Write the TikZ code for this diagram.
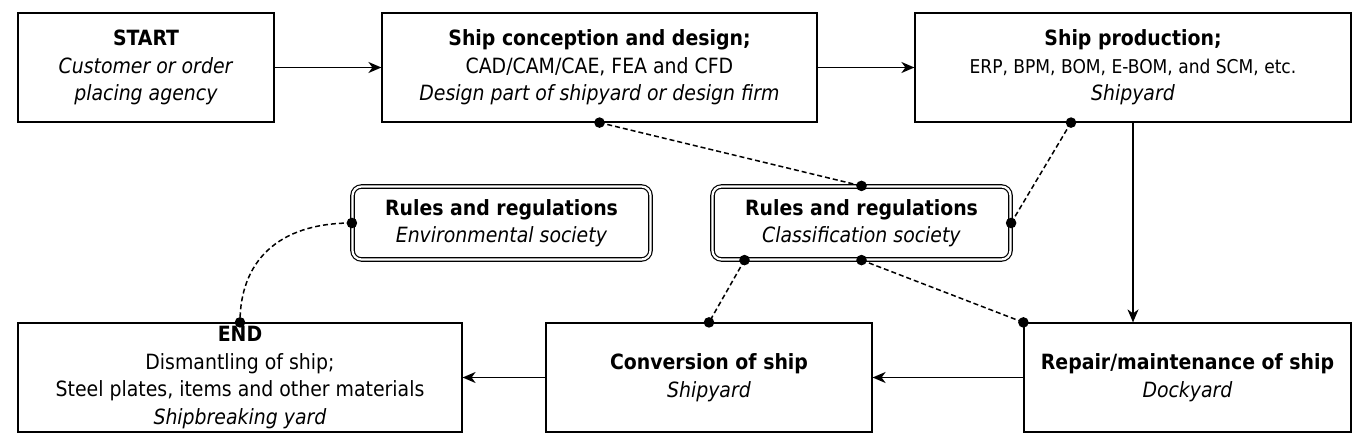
\documentclass[tikz,border=0pt]{standalone}
\usepackage{fontspec}
\setmainfont{DejaVu Sans Condensed}
\usetikzlibrary{arrows.meta,calc}
\begin{document}
\begin{tikzpicture}[x=1pt,y=-1pt,
 box/.style={draw, line width=1.2pt, inner sep=0pt, align=center, font=\fontsize{21}{27.5}\selectfont},
 rulebox/.style={box, double, double distance=2.2pt, rounded corners=9pt, minimum width=298pt, minimum height=73pt},
 flow/.style={line width=1.7pt, -{Stealth[length=13pt,width=11pt,inset=4pt]}},
 link/.style={line width=1.5pt, dash pattern=on 5pt off 3pt},
 dotstyle/.style={fill=black}]
\useasboundingbox (0,0) rectangle (1364,443);

\node[box, minimum width=256pt, minimum height=109pt] (start) at (146,67.5)
  {\textbf{START}\\\textit{Customer or order}\\\textit{placing agency}};
\node[box, minimum width=435pt, minimum height=109pt] (design) at (599.5,67.5)
  {\textbf{Ship conception and design;}\\CAD/CAM/CAE, FEA and CFD\\\textit{Design part of shipyard or design firm}};
\node[box, minimum width=436pt, minimum height=109pt] (prod) at (1133,67.5)
  {\textbf{Ship production;}\\{\fontsize{19}{27.5}\selectfont ERP, BPM, BOM, E-BOM, and SCM, etc.}\\\textit{Shipyard}};
\node[rulebox] (env) at (501.5,223)
  {\textbf{Rules and regulations}\\\textit{Environmental society}};
\node[rulebox] (class) at (861.5,223)
  {\textbf{Rules and regulations}\\\textit{Classification society}};
\node[box, minimum width=444pt, minimum height=109pt] (end) at (240,377.5)
  {\textbf{END}\\Dismantling of ship;\\Steel plates, items and other materials\\\textit{Shipbreaking yard}};
\node[box, minimum width=326pt, minimum height=109pt] (conv) at (709,377.5)
  {\textbf{Conversion of ship}\\\textit{Shipyard}};
\node[box, minimum width=327pt, minimum height=109pt] (repair) at (1187.5,377.5)
  {\textbf{Repair/maintenance of ship}\\\textit{Dockyard}};

\draw[flow] (start.east) -- (design.west);
\draw[flow] (design.east) -- (prod.west);
\draw[flow] (prod.south) -- (prod.south |- repair.north);
\draw[flow] (repair.west) -- (conv.east);
\draw[flow] (conv.west) -- (end.east);

\coordinate (pd) at ($(prod.south)+(-62,0)$);
\coordinate (cbl) at ($(class.south)+(-117,0)$);

\draw[link] (design.south) -- (class.north);
\draw[link] (pd) -- (class.east);
\draw[link] (cbl) -- (conv.north);
\draw[link] (class.south) -- (repair.north west);
\draw[link] (env.west) .. controls +(-75,0) and +(0,-60) .. (end.north);

\foreach \p in {design.south, class.north, pd, class.east, cbl, conv.north, class.south, repair.north west, env.west, end.north}
  \fill[dotstyle] (\p) circle (5.3pt);
\end{tikzpicture}
\end{document}
